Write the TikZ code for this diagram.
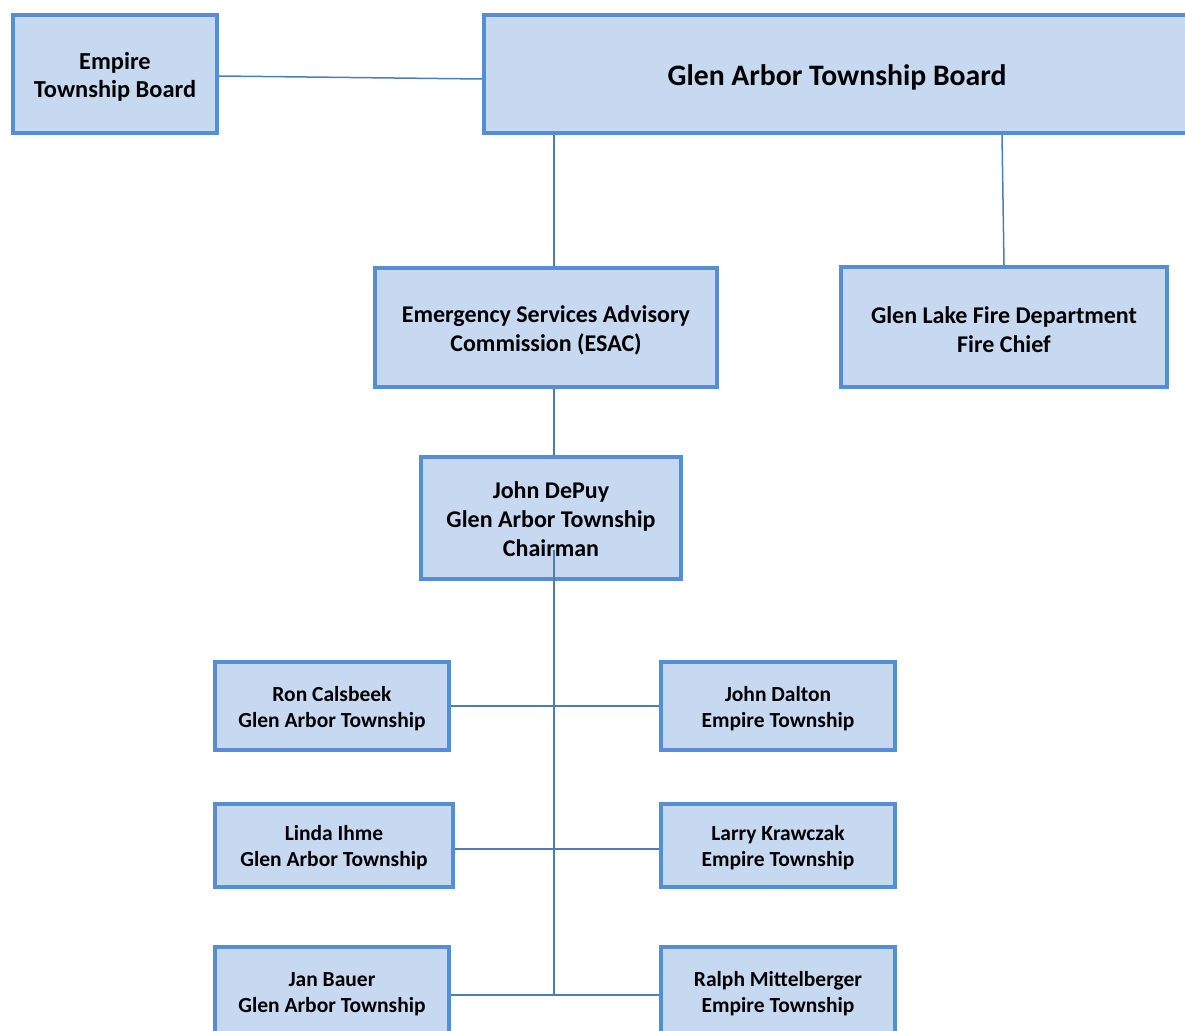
\documentclass[tikz,border=0pt]{standalone}
\usepackage{fontspec}
\setmainfont{Carlito}
\usetikzlibrary{calc}
\definecolor{boxfill}{HTML}{C6D9F1}
\definecolor{boxline}{HTML}{558ED5}
\definecolor{conn}{HTML}{4A7EBB}
\tikzset{
  orgbox/.style={draw=boxline, fill=boxfill, line width=4pt, rectangle, inner sep=0pt},
  lbltext/.style={align=center, text=black, inner sep=0pt, yshift=-2.5pt},
  tEmp/.style={label={[lbltext, font=\bfseries\fontsize{24.4}{28}\selectfont]center:{#1}}},
  tGat/.style={label={[lbltext, yshift=-0.5pt, font=\bfseries\fontsize{29.7}{30}\selectfont]center:{#1}}},
  tMid/.style={label={[lbltext, font=\bfseries\fontsize{24}{29}\selectfont]center:{#1}}},
  tDep/.style={label={[lbltext, yshift=1.5pt, font=\bfseries\fontsize{24}{29}\selectfont]center:{#1}}},
  tSmall/.style={label={[lbltext, font=\bfseries\fontsize{21.5}{26}\selectfont]center:{#1}}},
  link/.style={draw=conn, line width=1.5pt}
}
\begin{document}
\begin{tikzpicture}[x=1pt,y=-1pt]
\clip (0,0) rectangle (1185,1030);
\fill[white] (0,0) rectangle (1185,1030);
% boxes
\node[orgbox, minimum width=204pt, minimum height=118pt, tEmp={Empire\\Township Board}] (emp) at (115,74) {};
\node[orgbox, minimum width=706pt, minimum height=118pt, tGat={Glen Arbor Township Board}] (gat) at (837,74) {};
\node[orgbox, minimum width=342pt, minimum height=119pt, tMid={Emergency Services Advisory\\Commission (ESAC)}] (esac) at (546,327.5) {};
\node[orgbox, minimum width=326pt, minimum height=120pt, tMid={Glen Lake Fire Department\\Fire Chief}] (fire) at (1004,327) {};
\node[orgbox, minimum width=260pt, minimum height=122pt, tDep={John DePuy\\Glen Arbor Township\\Chairman}] (dep) at (551,518) {};
\node[orgbox, minimum width=234pt, minimum height=88pt, tSmall={Ron Calsbeek\\Glen Arbor Township}] (ron) at (332,706) {};
\node[orgbox, minimum width=234pt, minimum height=88pt, tSmall={John Dalton\\Empire Township}] (dal) at (778,706) {};
\node[orgbox, minimum width=238pt, minimum height=83pt, tSmall={Linda Ihme\\Glen Arbor Township}] (lin) at (334,845.5) {};
\node[orgbox, minimum width=234pt, minimum height=83pt, tSmall={Larry Krawczak\\Empire Township}] (lar) at (778,845.5) {};
\node[orgbox, minimum width=234pt, minimum height=89pt, tSmall={Jan Bauer\\Glen Arbor Township}] (jan) at (332,991.5) {};
\node[orgbox, minimum width=234pt, minimum height=89pt, tSmall={Ralph Mittelberger\\Empire Township}] (ral) at (778,991.5) {};
% connectors
\coordinate (sp) at (554,0);
\coordinate (t0) at (554,550);
\coordinate (t1) at (554,995);
\coordinate (fc) at (1002,0);
\draw[link] ([yshift=-2pt]emp.east) -- ([yshift=-5pt]gat.west);
\draw[link] (gat.south -| sp) -- (esac.north -| sp);
\draw[link] (gat.south -| fc) -- (fire.north);
\draw[link] (esac.south -| sp) -- (dep.north -| sp);
\draw[link] (t0) -- (t1);
\draw[link] (ron.east) -- (dal.west);
\draw[link] ([yshift=-3.5pt]lin.east) -- ([yshift=-3.5pt]lar.west);
\draw[link] (jan.east |- t1) -- (ral.west |- t1);
\end{tikzpicture}
\end{document}
